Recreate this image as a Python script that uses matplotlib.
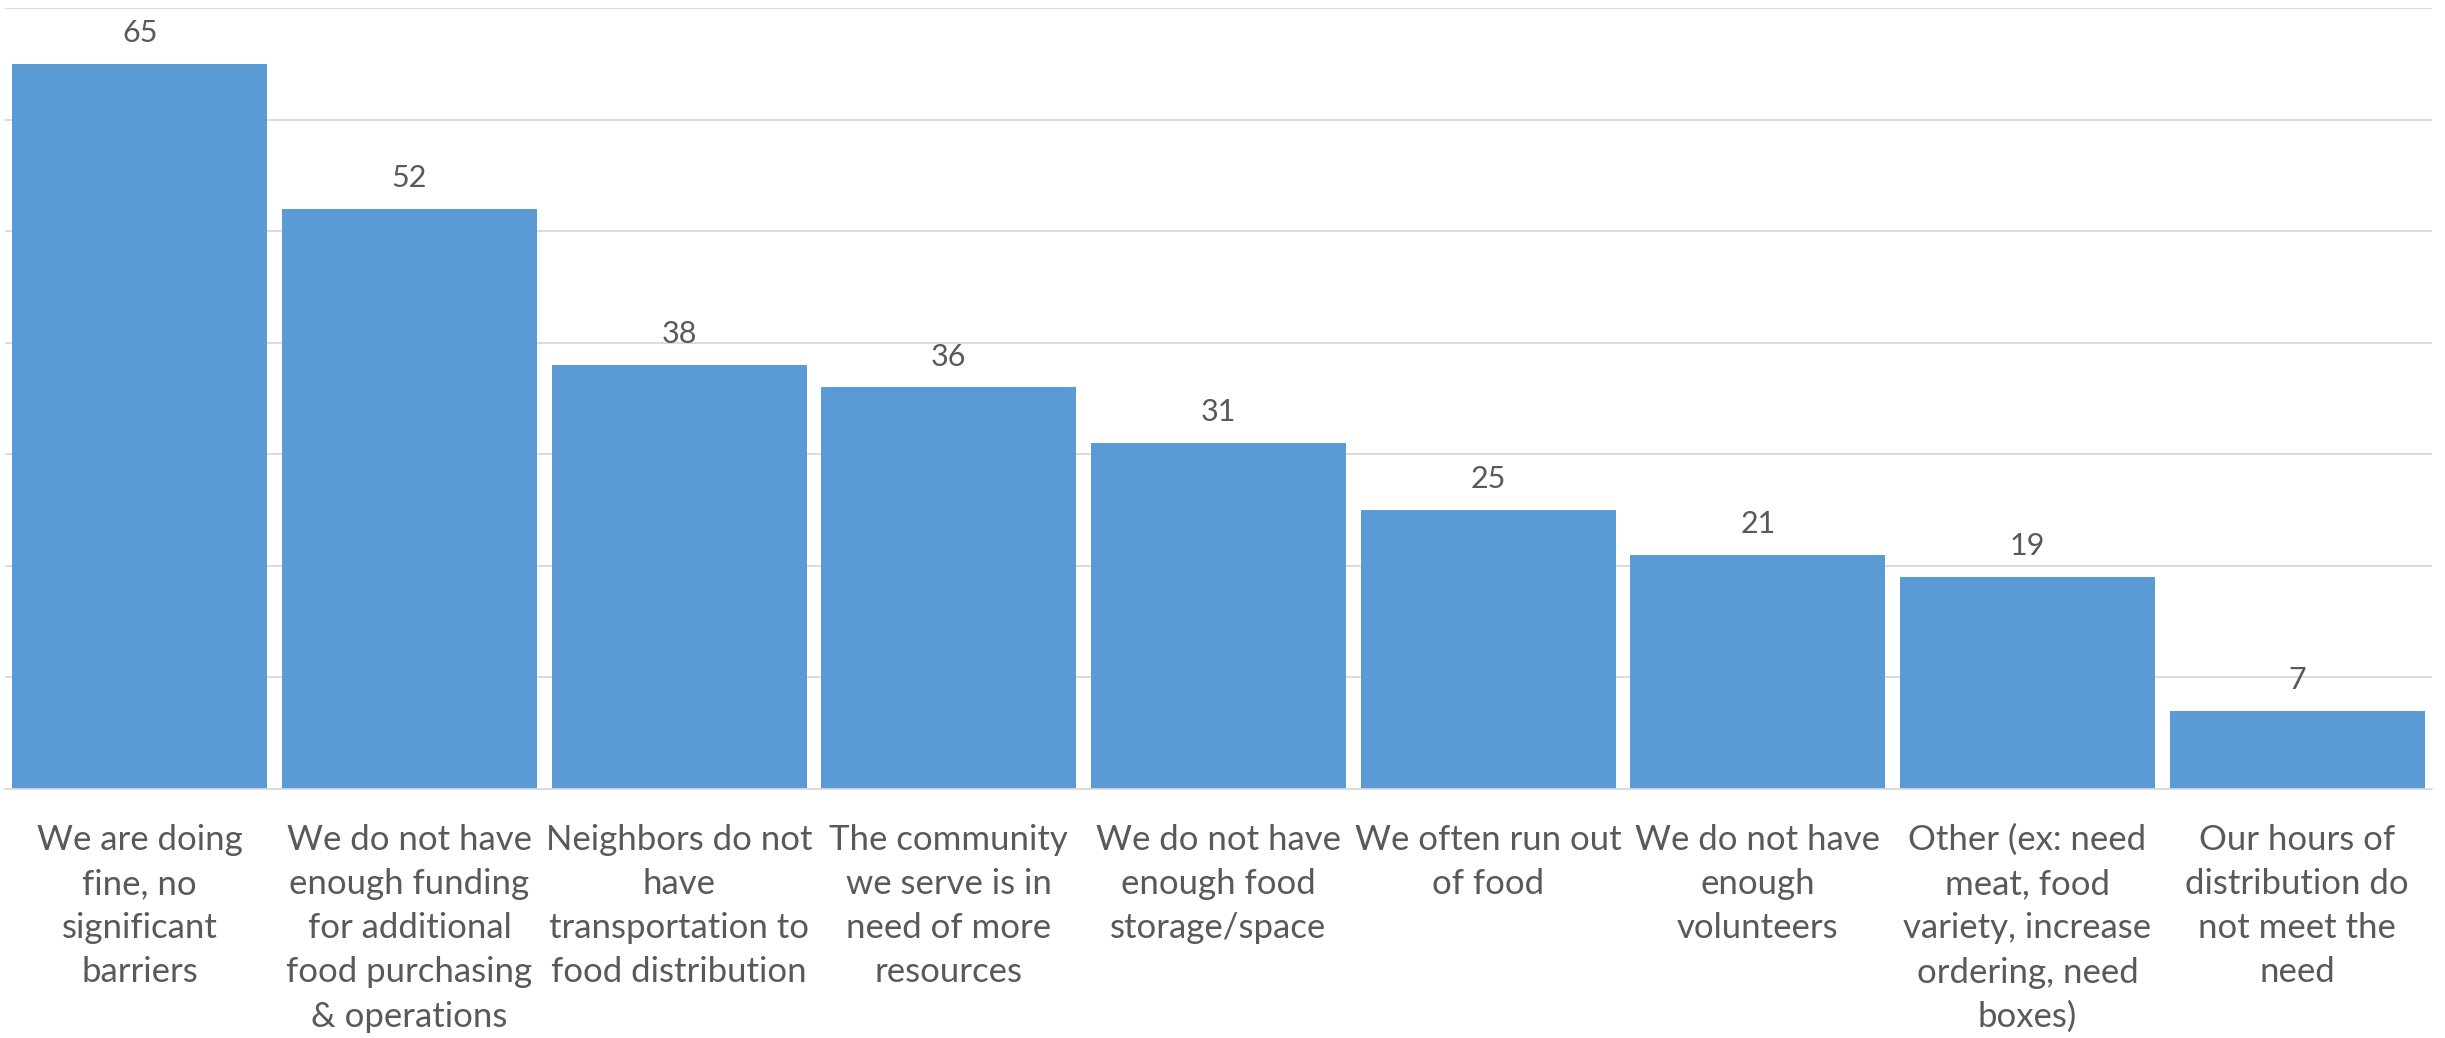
import matplotlib
matplotlib.use('Agg')
import matplotlib.pyplot as plt

categories = [
    "We are doing\nfine, no\nsignificant\nbarriers",
    "We do not have\nenough funding\nfor additional\nfood purchasing\n& operations",
    "Neighbors do not\nhave\ntransportation to\nfood distribution",
    "The community\nwe serve is in\nneed of more\nresources",
    "We do not have\nenough food\nstorage/space",
    "We often run out\nof food",
    "We do not have\nenough\nvolunteers",
    "Other (ex: need\nmeat, food\nvariety, increase\nordering, need\nboxes)",
    "Our hours of\ndistribution do\nnot meet the\nneed",
]
counts = [65, 52, 38, 36, 31, 25, 21, 19, 7]

plt.rcParams['font.family'] = ['Lato', 'DejaVu Sans']
txt = '#595959'

fig = plt.figure(figsize=(24.45, 10.38), dpi=100)
ax = fig.add_axes([0.002, 0.2399, 0.9927, 0.7524])

x = range(len(counts))
bars = ax.bar(x, counts, width=0.946, color='#5B9BD5', zorder=2)

for b, v in zip(bars, counts):
    ax.annotate(str(v), (b.get_x() + b.get_width() / 2, v), xytext=(0, 12),
                textcoords='offset points', ha='center', va='bottom',
                fontsize=22, color=txt)

ax.set_xlim(-0.5, len(counts) - 0.5)
ax.set_ylim(0, 70)
ax.set_yticks(range(0, 71, 10))
ax.yaxis.grid(True, color='#D9D9D9', linewidth=1.3, zorder=0)
ax.tick_params(axis='y', left=False, labelleft=False)
ax.set_xticks(list(x))
ax.set_xticklabels(categories, fontsize=25, color=txt, linespacing=1.47,
                   va='top')
ax.tick_params(axis='x', length=0, pad=25)
for s in ['left', 'right', 'top']:
    ax.spines[s].set_visible(False)
ax.spines['bottom'].set_color('#D9D9D9')
ax.spines['bottom'].set_linewidth(1.3)

plt.savefig('out.png', dpi=100)
